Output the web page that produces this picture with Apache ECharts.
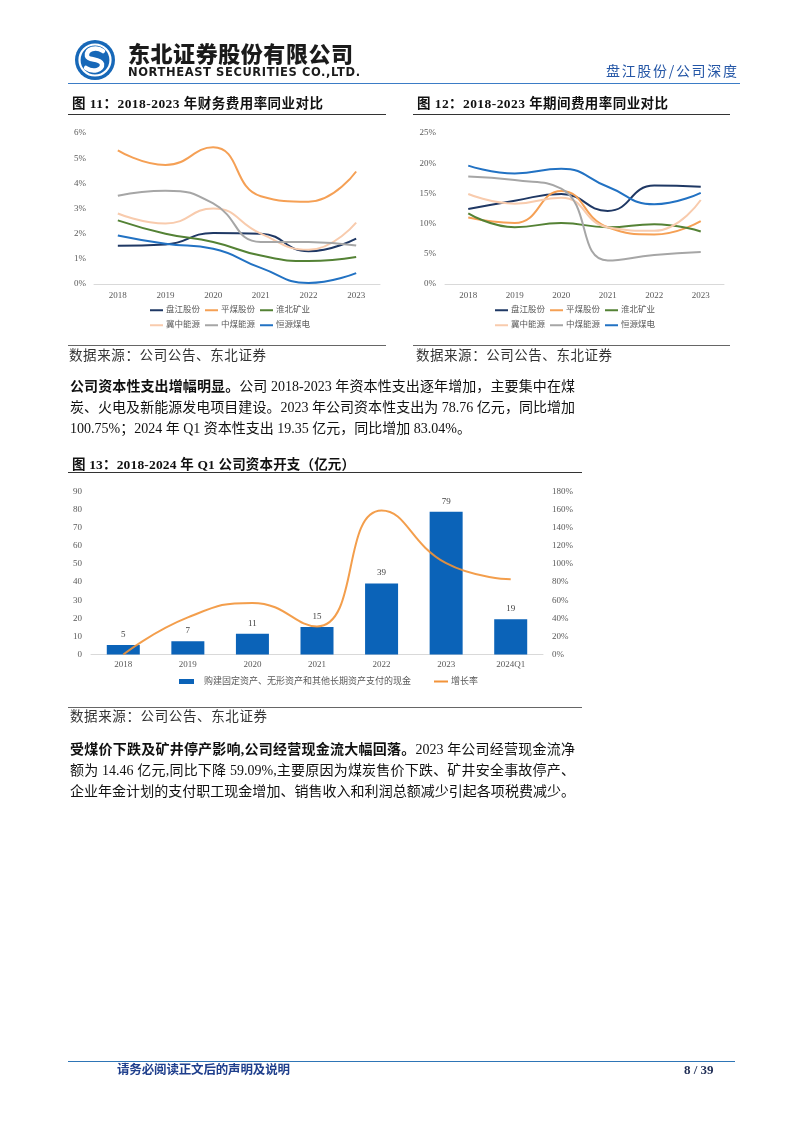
<!DOCTYPE html>
<html><head><meta charset="utf-8">
<script src="https://cdn.jsdelivr.net/npm/echarts@6/dist/echarts.min.js"></script>
<style>
html,body{margin:0;padding:0;background:#fff;}
#page{position:relative;width:802px;height:1133px;overflow:hidden;background:#fff;}
#chart{position:absolute;left:0;top:0;width:802px;height:1133px;}
.t{position:absolute;white-space:nowrap;font-family:'Liberation Serif','Noto Sans CJK SC',serif;color:#111;}
.hr{position:absolute;height:1px;background:#555;}
.ln{position:absolute;left:70px;width:505px;font-family:'Liberation Serif','Noto Sans CJK SC',serif;font-size:14px;line-height:21px;color:#111;text-align:justify;text-align-last:justify;white-space:nowrap;}
.ln.last{text-align-last:left;}
</style></head>
<body><div id="page">
<div id="chart"></div>

<svg style="position:absolute;left:74px;top:39px" width="42" height="42" viewBox="0 0 42 42">
  <circle cx="21" cy="21" r="20" fill="#1768b8"/>
  <circle cx="21" cy="21" r="15.5" fill="none" stroke="#fff" stroke-width="2.2"/>
  <path d="M29 12 C22 7 12 10 13 17 C14 22 26 19 28 25 C29 31 19 34 12 29" fill="none" stroke="#fff" stroke-width="4.5" stroke-linecap="round"/>
</svg>
<div class="t" data-fit="225" style="left:128px;top:38px;font-family:'Noto Sans CJK SC',sans-serif;font-weight:900;font-size:22px;line-height:28px;color:#1b1b1b">东北证券股份有限公司</div>
<div class="t" data-fit="232" style="left:128px;top:65px;font-family:'DejaVu Sans',sans-serif;font-weight:bold;font-size:11.5px;line-height:14px;color:#1b1b1b">NORTHEAST SECURITIES CO.,LTD.</div>
<div class="t" data-fit="131" style="left:606px;top:61px;font-family:'Noto Sans CJK SC',sans-serif;font-size:14px;line-height:18px;color:#2456a6">盘江股份/公司深度</div>
<div class="hr" style="left:68px;top:82.5px;width:672px;height:1.5px;background:#3b7cc6"></div>

<div class="t" data-fit="251" style="left:72px;top:96px;font-size:13.5px;line-height:16px;font-weight:bold">图 11：2018-2023 年财务费用率同业对比</div>
<div class="hr" style="left:68px;top:114px;width:318px;background:#333"></div>
<div class="t" data-fit="251" style="left:417px;top:96px;font-size:13.5px;line-height:16px;font-weight:bold">图 12：2018-2023 年期间费用率同业对比</div>
<div class="hr" style="left:413px;top:114px;width:317px;background:#333"></div>

<div class="hr" style="left:68px;top:345px;width:318px;background:#666"></div>
<div class="hr" style="left:413px;top:345px;width:317px;background:#666"></div>
<div class="t" data-fit="197" style="left:69px;top:348px;font-size:13.5px;line-height:16px;color:#333">数据来源：公司公告、东北证券</div>
<div class="t" data-fit="196" style="left:416px;top:348px;font-size:13.5px;line-height:16px;color:#333">数据来源：公司公告、东北证券</div>

<div class="ln" style="top:375.5px"><b>公司资本性支出增幅明显。</b>公司 2018-2023 年资本性支出逐年增加，主要集中在煤</div>
<div class="ln" style="top:396.5px">炭、火电及新能源发电项目建设。2023 年公司资本性支出为 78.76 亿元，同比增加</div>
<div class="ln last" style="top:417.5px">100.75%；2024 年 Q1 资本性支出 19.35 亿元，同比增加 83.04%。</div>

<div class="t" data-fit="283" style="left:72px;top:457px;font-size:13.5px;line-height:16px;font-weight:bold">图 13：2018-2024 年 Q1 公司资本开支（亿元）</div>
<div class="hr" style="left:68px;top:472px;width:514px;background:#333"></div>
<div class="hr" style="left:68px;top:707px;width:514px;background:#666"></div>
<div class="t" data-fit="197" style="left:70px;top:709px;font-size:13.5px;line-height:16px;color:#333">数据来源：公司公告、东北证券</div>

<div class="ln" style="top:738.5px"><b>受煤价下跌及矿井停产影响,公司经营现金流大幅回落。</b>2023 年公司经营现金流净</div>
<div class="ln" style="top:759.5px">额为 14.46 亿元,同比下降 59.09%,主要原因为煤炭售价下跌、矿井安全事故停产、</div>
<div class="ln" style="top:780.5px">企业年金计划的支付职工现金增加、销售收入和利润总额减少引起各项税费减少。</div>

<div class="hr" style="left:68px;top:1060.5px;width:667px;height:1.5px;background:#2e75b6"></div>
<div class="t" data-fit="173" style="left:117px;top:1062px;font-size:12.5px;line-height:16px;font-weight:bold;color:#1f3f8c">请务必阅读正文后的声明及说明</div>
<div class="t" style="left:684px;top:1062px;font-size:13px;line-height:16px;font-weight:bold;color:#1f2d55">8 / 39</div>
</div>
<script>
// fit text widths
document.querySelectorAll('[data-fit]').forEach(function(el){
  var target = parseFloat(el.getAttribute('data-fit'));
  var w = el.getBoundingClientRect().width;
  var n = el.textContent.length;
  if (n > 1) el.style.letterSpacing = ((target - w) / (n - 1)) + 'px';
});

// ---------- data ----------
var years = ['2018','2019','2020','2021','2022','2023'];
var companyNames = ['盘江股份','平煤股份','淮北矿业','冀中能源','中煤能源','恒源煤电'];
var companyColors = ['#1f3864','#f5a055','#548235','#f8cbad','#a6a6a6','#2272c3'];

// 图11 财务费用率 (%)
var finPanjiang  = [1.52, 1.57, 2.03, 2.00, 1.30, 1.80];
var finPingmei   = [5.31, 4.73, 5.43, 3.49, 3.27, 4.47];
var finHuaibei   = [2.53, 2.00, 1.67, 1.13, 0.91, 1.07];
var finJizhong   = [2.80, 2.40, 3.00, 2.00, 1.36, 2.44];
var finZhongmei  = [3.51, 3.71, 3.20, 1.67, 1.67, 1.53];
var finHengyuan  = [1.93, 1.60, 1.40, 0.64, 0.04, 0.43];

// 图12 期间费用率 (%)
var perPanjiang  = [12.4, 13.8, 14.9, 12.1, 16.3, 16.1];
var perPingmei   = [11.0, 10.1, 15.4, 9.4, 8.2, 10.4];
var perHuaibei   = [11.7, 9.4, 10.1, 9.4, 9.9, 8.7];
var perJizhong   = [14.9, 13.3, 14.3, 9.4, 8.8, 13.9];
var perZhongmei  = [17.8, 17.2, 15.8, 3.9, 4.8, 5.3];
var perHengyuan  = [19.6, 18.3, 19.1, 16.1, 13.2, 15.1];

// 图13 资本开支
var capexCats = ['2018','2019','2020','2021','2022','2023','2024Q1'];
var capexValues = [5.2, 7.3, 11.4, 15.2, 39.2, 78.8, 19.4];
var growthRates = [0, 41, 57, 31, 159, 100.8, 83];
var capexName = '购建固定资产、无形资产和其他长期资产支付的现金';
var growthName = '增长率';

// ---------- option ----------
var FONT = "'Liberation Serif','Noto Sans CJK SC',serif";
var finSets = [finPanjiang, finPingmei, finHuaibei, finJizhong, finZhongmei, finHengyuan];
var perSets = [perPanjiang, perPingmei, perHuaibei, perJizhong, perZhongmei, perHengyuan];

function catAxis(gi, data, margin){
  return {gridIndex: gi, type: 'category', data: data,
    axisLine: {lineStyle: {color: '#d9d9d9', width: 1}}, axisTick: {show: false},
    axisLabel: {color: '#595959', fontSize: 9, margin: margin, fontFamily: FONT}};
}
function valAxis(gi, max, interval, pct, margin, pos){
  return {gridIndex: gi, type: 'value', min: 0, max: max, interval: interval, position: pos || 'left',
    axisLine: {show: false}, axisTick: {show: false}, splitLine: {show: false},
    axisLabel: {color: '#595959', fontSize: 9, margin: margin, fontFamily: FONT,
      formatter: pct ? '{value}%' : '{value}'}};
}
function lineLegend(names, left, top){
  return {data: names, left: left, top: top, orient: 'horizontal', padding: 0,
    itemWidth: 13, itemHeight: 2, itemGap: 5, icon: 'rect',
    textStyle: {fontSize: 8.5, color: '#595959', fontFamily: FONT, padding: [0,0,0,-2]}};
}

var series = [];
finSets.forEach(function(d, i){
  series.push({name: companyNames[i], type: 'line', xAxisIndex: 0, yAxisIndex: 0, data: d,
    smooth: true, symbol: 'none', color: companyColors[i], lineStyle: {width: 2}});
});
perSets.forEach(function(d, i){
  series.push({name: companyNames[i], type: 'line', xAxisIndex: 1, yAxisIndex: 1, data: d,
    smooth: true, symbol: 'none', color: companyColors[i], lineStyle: {width: 2}});
});
series.push({name: capexName, type: 'bar', xAxisIndex: 2, yAxisIndex: 2, data: capexValues,
  barWidth: 33, color: '#0b63b8',
  label: {show: true, position: 'top', fontSize: 9, color: '#404040', fontFamily: FONT, distance: 6,
    formatter: function(p){ return Math.round(p.value); }}});
series.push({name: growthName, type: 'line', xAxisIndex: 2, yAxisIndex: 3, data: growthRates,
  smooth: true, symbol: 'none', color: '#f29339', lineStyle: {width: 2, opacity: 0.9}, z: 3});

var option = {
  animation: false,
  textStyle: {fontFamily: FONT},
  grid: [
    {left: 94, top: 133, width: 286, height: 151},
    {left: 445, top: 133, width: 279, height: 151},
    {left: 91, top: 491.5, width: 452, height: 163}
  ],
  xAxis: [catAxis(0, years, 7), catAxis(1, years, 7), catAxis(2, capexCats, 6)],
  yAxis: [
    valAxis(0, 6, 1, true, 8),
    valAxis(1, 25, 5, true, 9),
    valAxis(2, 90, 10, false, 9),
    valAxis(2, 180, 20, true, 9, 'right')
  ],
  legend: [
    lineLegend(companyNames.slice(0,3), 150, 306),
    lineLegend(companyNames.slice(3,6), 150, 321),
    lineLegend(companyNames.slice(0,3), 495, 306),
    lineLegend(companyNames.slice(3,6), 495, 321),
    {data: [capexName], left: 179, top: 677, padding: 0, icon: 'rect', itemWidth: 15, itemHeight: 5,
      textStyle: {fontSize: 9, color: '#595959', fontFamily: FONT, padding: [0,0,0,5]}},
    {data: [growthName], left: 434, top: 677, padding: 0, icon: 'rect', itemWidth: 14, itemHeight: 2,
      textStyle: {fontSize: 9, color: '#595959', fontFamily: FONT, padding: [0,0,0,-2]}}
  ],
  series: series
};
var chart = echarts.init(document.getElementById('chart'), null, {renderer: 'canvas'});
chart.setOption(option);
</script>
</body></html>
